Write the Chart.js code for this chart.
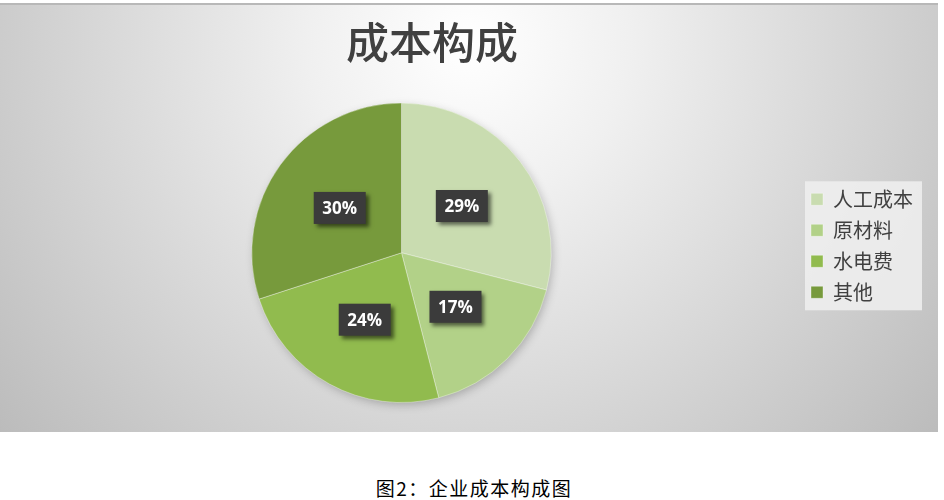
<!DOCTYPE html>
<html>
<head>
<meta charset="utf-8">
<script src="https://cdn.jsdelivr.net/npm/chart.js@4.4.1/dist/chart.umd.min.js"></script>
<style>
  html, body { margin: 0; padding: 0; background: #fff; }
  #wrap { position: absolute; left: 0; top: 3px; width: 938px; height: 429px; }
  #caption {
    position: absolute; left: 0; top: 474px; width: 948px; text-align: center;
    font-family: "Noto Sans CJK SC", sans-serif; font-size: 19px; color: #000;
    letter-spacing: 1.5px;
  }
</style>
</head>
<body>
<div id="wrap"><canvas id="costChart"></canvas></div>
<div id="caption">图2：企业成本构成图</div>
<script>
// chart data
const categories = ['人工成本', '原材料', '水电费', '其他'];
const shares = [29, 17, 24, 30];
const sliceColors = ['#c9dcb0', '#b2d188', '#91bb4e', '#779a3c'];

/**
 * Gray radial backdrop like the office chart area
 */
const backdropPlugin = {
  id: 'backdrop',
  afterLayout(chart) {
    // title sits a bit left of the full width centre, legend a bit higher
    chart.titleBlock.left = 0;
    chart.titleBlock.right = 864;
    chart.legend.top -= 7;
    chart.legend.bottom -= 7;
  },
  beforeDraw(chart) {
    const { ctx, width, height } = chart;
    ctx.save();
    const g = ctx.createRadialGradient(469, 40, 0, 469, 40, 640);
    g.addColorStop(0, '#ffffff');
    g.addColorStop(0.25, '#f0f0f0');
    g.addColorStop(1, '#b8b8b8');
    ctx.fillStyle = g;
    ctx.fillRect(0, 0, width, height);
    ctx.strokeStyle = '#b8b8b8';
    ctx.lineWidth = 2;
    ctx.beginPath();
    ctx.moveTo(0, 1);
    ctx.lineTo(width, 1);
    ctx.stroke();
    ctx.restore();
  },
  beforeDatasetsDraw(chart) {
    // soft shadow under the pie
    const arc = chart.getDatasetMeta(0).data[0];
    if (!arc) return;
    const { ctx } = chart;
    ctx.save();
    ctx.shadowColor = 'rgba(0,0,0,0.25)';
    ctx.shadowBlur = 10;
    ctx.shadowOffsetX = 2;
    ctx.shadowOffsetY = 3;
    ctx.fillStyle = '#cccccc';
    ctx.beginPath();
    ctx.arc(arc.x, arc.y, arc.outerRadius - 1, 0, Math.PI * 2);
    ctx.fill();
    ctx.restore();
  }
};

/**
 * Light panel behind the legend
 */
const legendPanelPlugin = {
  id: 'legendPanel',
  beforeDraw(chart) {
    const items = chart.legend && chart.legend.legendHitBoxes;
    if (!items || !items.length) return;
    const { ctx } = chart;
    let x0 = Infinity, y0 = Infinity, x1 = -Infinity, y1 = -Infinity;
    items.forEach(b => {
      x0 = Math.min(x0, b.left); y0 = Math.min(y0, b.top);
      x1 = Math.max(x1, b.left + b.width); y1 = Math.max(y1, b.top + b.height);
    });
    ctx.save();
    ctx.fillStyle = 'rgba(240,240,240,0.85)';
    ctx.fillRect(x0 - 6, y0 - 8, (x1 - x0) + 15, (y1 - y0) + 16);
    ctx.restore();
  }
};

/**
 * Dark boxed percentage labels
 */
const boxLabelPlugin = {
  id: 'boxLabels',
  afterDatasetsDraw(chart) {
    const { ctx } = chart;
    const meta = chart.getDatasetMeta(0);
    const total = shares.reduce((a, b) => a + b, 0);
    meta.data.forEach((arc, i) => {
      const mid = (arc.startAngle + arc.endAngle) / 2;
      const r = arc.outerRadius * 0.51;
      const cx = arc.x + Math.cos(mid) * r;
      const cy = arc.y + Math.sin(mid) * r;
      const w = 52, h = 32;
      ctx.save();
      ctx.shadowColor = 'rgba(0,0,0,0.55)';
      ctx.shadowBlur = 4;
      ctx.shadowOffsetX = 3;
      ctx.shadowOffsetY = 3;
      ctx.fillStyle = '#3b3b3b';
      ctx.fillRect(cx - w / 2, cy - h / 2, w, h);
      ctx.restore();
      ctx.save();
      ctx.fillStyle = '#ffffff';
      ctx.font = 'bold 17px "Open Sans", sans-serif';
      ctx.textAlign = 'center';
      ctx.textBaseline = 'middle';
      ctx.fillText(Math.round(shares[i] / total * 100) + '%', cx, cy + 1);
      ctx.restore();
    });
  }
};

new Chart(document.getElementById('costChart'), {
  type: 'pie',
  data: {
    labels: categories,
    datasets: [
      {
        data: shares,
        backgroundColor: sliceColors,
        borderColor: 'rgba(255,255,255,0.35)',
        borderWidth: 1
      }
    ]
  },
  options: {
    responsive: true,
    maintainAspectRatio: false,
    animation: false,
    layout: {
      padding: { left: 3, right: 15, top: 0, bottom: 29 }
    },
    plugins: {
      title: {
        display: true,
        text: '成本构成',
        color: '#404040',
        font: { family: '"Noto Sans CJK SC", sans-serif', size: 43, weight: '500' },
        padding: { top: 14, bottom: 34 }
      },
      legend: {
        position: 'right',
        fullSize: false,
        labels: {
          boxWidth: 12,
          boxHeight: 12,
          padding: 11,
          color: '#404040',
          font: { family: '"Noto Sans CJK SC", sans-serif', size: 20 }
        }
      },
      tooltip: { enabled: false }
    }
  },
  plugins: [backdropPlugin, legendPanelPlugin, boxLabelPlugin]
});
</script>
</body>
</html>
